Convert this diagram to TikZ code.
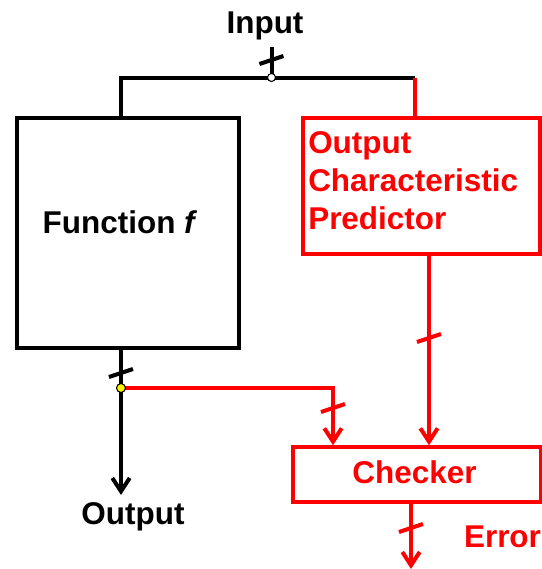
\documentclass[tikz,border=0pt]{standalone}
\usepackage{fontspec}
\setmainfont{Liberation Sans}
\usetikzlibrary{arrows.meta}
\tikzset{
  wire/.style={line width=3pt},
  blk/.style={draw,line width=3pt,inner sep=0pt},
  txt/.style={font=\fontsize{23.6}{28.5}\selectfont\bfseries,inner sep=0pt},
  arr/.style={-{Straight Barb[length=10pt,width=13pt]}},
  bus/.pic={\draw[line width=3pt] (-12,4) -- (12,-4);}
}
\begin{document}
\begin{tikzpicture}[x=0.75pt,y=-0.75pt]
	\useasboundingbox (0,0) rectangle (542,569);
	% blocks
	\node[blk,minimum width=166.5pt,minimum height=172.5pt] (fn) at (128,233.3) {};
	\node[blk,red,minimum width=178pt,minimum height=101.8pt] (pred) at (421.3,186.2) {};
	\node[blk,red,minimum width=186pt,minimum height=41.3pt] (chk) at (417,474.8) {};
	% texts
	\node[txt,anchor=base] (intxt) at (265,33) {Input};
	\node[txt,anchor=base] (fntxt) at (120,233) {Function \textit{f}};
	\node[txt,red,anchor=north west,align=left] (predtxt) at (308,131) {Output\\Characteristic\\Predictor};
	\node[txt,red,anchor=base] (chktxt) at (414.5,483) {Checker};
	\node[txt,anchor=base] (outtxt) at (133,524) {Output};
	\node[txt,red,anchor=base] (errtxt) at (502.5,547) {Error};
	% wire ends and corners
	\coordinate (inp) at (271.5,47);
	\coordinate (split) at (271.5,77.5);
	\coordinate (pcorner) at (415,77.5);
	\coordinate (tap) at (121,388);
	\coordinate (out) at (121,495);
	\coordinate (err) at (411,569);
	\coordinate (cin1) at ([xshift=-63pt]chk.north);
	\coordinate (cin2) at ([xshift=9pt]chk.north);
	% wires
	\draw[wire] (inp) -- (split);
	\draw[wire] (fn.north -| tap) |- (pcorner);
	\draw[wire,red] (pcorner) -- (pcorner |- pred.north);
	\draw[wire,arr] (fn.south -| tap) -- (out);
	\draw[wire,red,arr] (tap) -| (cin1);
	\draw[wire,red,arr] (pred.south -| cin2) -- (cin2);
	\draw[wire,red,arr] (chk.south -| err) -- (err);
	% bus marks
	\pic at (271.5,60) {bus};
	\pic at (121,373) {bus};
	\pic[red] at (333,408) {bus};
	\pic[red] at (429,338) {bus};
	\pic[red] at (411,528) {bus};
	% junctions
	\draw[fill=white,line width=0.8pt] (split) circle[radius=4];
	\draw[fill=yellow,line width=0.8pt] (tap) circle[radius=4.5];
\end{tikzpicture}
\end{document}
